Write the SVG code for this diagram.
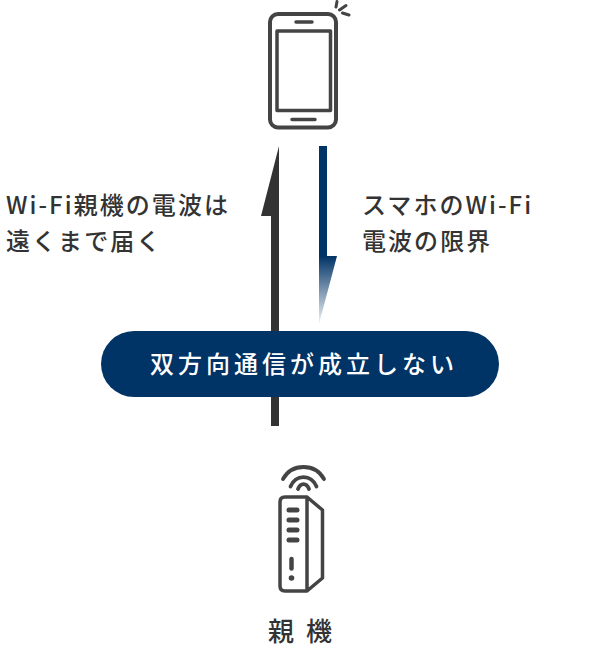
<svg xmlns="http://www.w3.org/2000/svg" width="600" height="645" viewBox="0 0 600 645">
<style>
.t{font-family:"Noto Sans CJK JP","Noto Sans",sans-serif;font-weight:500;font-size:24px;letter-spacing:2.050px;fill:#333}
.i{fill:none;stroke:#444;stroke-linecap:round;stroke-linejoin:round}
</style>
<defs><linearGradient id="g" x1="0" y1="256" x2="0" y2="324" gradientUnits="userSpaceOnUse"><stop offset="0" stop-color="#003366"/><stop offset="1" stop-color="#003366" stop-opacity="0.05"/></linearGradient></defs>
<rect width="600" height="645" fill="#fff"/>
<g id="connectors">
<path d="M279 146V426H271V216H261Z" fill="#333"/>
<path d="M319 146H327V256H319Z" fill="#003366"/>
<path d="M319 256H337L319 324Z" fill="url(#g)"/>
</g>
<g id="phone">
<rect x="270" y="14" width="66" height="113.500" rx="8" class="i" stroke-width="4"/>
<rect x="277" y="31" width="53.500" height="79.500" class="i" stroke-width="3.500"/>
<path d="M296 22H312M292 119.500H315" class="i" stroke-width="3.500"/>
<path d="M337 1.500L336 7M339.500 10L346 5.500M342.500 13L349 15" class="i" stroke-width="3"/>
</g>
<g id="label-left">
<text class="t" x="6" y="214">Wi-Fi親機の電波は</text>
<text class="t" x="6" y="250">遠くまで届く</text>
</g>
<g id="label-right">
<text class="t" x="362" y="214">スマホのWi-Fi</text>
<text class="t" x="362" y="250">電波の限界</text>
</g>
<g id="status">
<rect x="101" y="331" width="398" height="66" rx="33" fill="#003366"/>
<text x="150" y="373" font-family="'Noto Sans CJK JP',sans-serif" font-weight="500" font-size="24" letter-spacing="4" fill="#fff">双方向通信が成立しない</text>
</g>
<g id="router">
<path d="M283 479C292 463 315 463 324 479M290.500 486.500C296 474 311 474 316.500 486.500" class="i" stroke-width="3.800"/>
<path d="M298 489C300.500 482.500 306.500 482.500 309 489" class="i" stroke-width="3.800"/>
<path d="M285 497H307L322.500 510V578L307 591H285Q280 591 280 586V502Q280 497 285 497ZM307 497V591" class="i" stroke-width="3.500"/>
<path d="M289 510H297M289 520H297M289 530H297M289 540H297" class="i" stroke-width="5"/>
<path d="M291.500 559V568.500" class="i" stroke-width="4.500"/>
<circle cx="291.500" cy="578" r="2.800" fill="#444"/>
</g>
<text class="t" x="268" y="641" style="font-size:26px;letter-spacing:12px" id="router-label">親機</text>
</svg>
